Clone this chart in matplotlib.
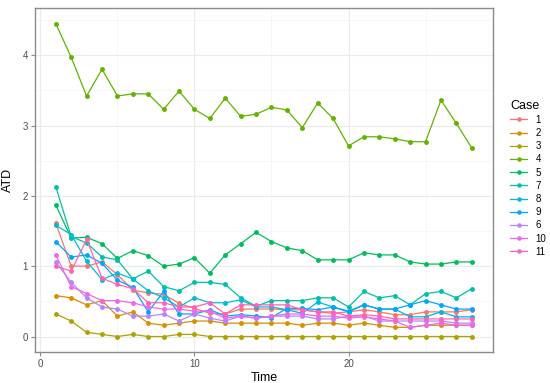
import numpy as np
import matplotlib
matplotlib.use("Agg")
import matplotlib.pyplot as plt
from matplotlib.ticker import MultipleLocator

plt.rcParams['font.family'] = ['Liberation Sans', 'DejaVu Sans']

time = np.arange(1, 29)

# legend order as in the reference
cases = ['1', '2', '3', '4', '5', '7', '8', '9', '6', '10', '11']
colors = ['#F8766D', '#DB8E00', '#AEA200', '#64B200', '#00BD5C', '#00C1A7',
          '#00BADE', '#00A6FF', '#B385FF', '#EF67EB', '#FF63B6']

case1 = [1.61, 1.00, 1.00, 1.06, 0.88, 0.66, 0.62, 0.60, 0.47, 0.40, 0.33, 0.32, 0.39, 0.39,
         0.39, 0.38, 0.38, 0.35, 0.33, 0.35, 0.38, 0.35, 0.31, 0.31, 0.35, 0.35, 0.35, 0.38]
case2 = [0.58, 0.55, 0.45, 0.51, 0.29, 0.35, 0.19, 0.16, 0.19, 0.22, 0.22, 0.19, 0.19, 0.19,
         0.19, 0.19, 0.16, 0.19, 0.19, 0.16, 0.19, 0.16, 0.13, 0.13, 0.16, 0.16, 0.16, 0.16]
case3 = [0.32, 0.22, 0.06, 0.03, 0.00, 0.03, 0.00, 0.00, 0.03, 0.03, 0.00, 0.00, 0.00, 0.00,
         0.00, 0.00, 0.00, 0.00, 0.00, 0.00, 0.00, 0.00, 0.00, 0.00, 0.00, 0.00, 0.00, 0.00]
case4 = [4.45, 3.97, 3.42, 3.80, 3.42, 3.45, 3.45, 3.23, 3.49, 3.23, 3.10, 3.39, 3.13, 3.16,
         3.26, 3.22, 2.97, 3.32, 3.10, 2.71, 2.84, 2.84, 2.81, 2.77, 2.77, 3.36, 3.03, 2.68]
case5 = [1.87, 1.40, 1.41, 1.32, 1.11, 1.22, 1.15, 1.00, 1.03, 1.12, 0.90, 1.16, 1.32, 1.48,
         1.35, 1.26, 1.22, 1.09, 1.09, 1.09, 1.19, 1.16, 1.16, 1.06, 1.03, 1.03, 1.06, 1.06]
case7 = [2.13, 1.42, 1.33, 1.13, 1.09, 0.82, 0.93, 0.71, 0.65, 0.77, 0.77, 0.74, 0.55, 0.43,
         0.51, 0.51, 0.51, 0.55, 0.55, 0.42, 0.64, 0.55, 0.58, 0.45, 0.61, 0.64, 0.55, 0.68]
case8 = [1.58, 1.45, 1.07, 0.81, 0.90, 0.82, 0.65, 0.55, 0.42, 0.55, 0.48, 0.48, 0.52, 0.42,
         0.42, 0.38, 0.33, 0.49, 0.42, 0.36, 0.45, 0.39, 0.39, 0.28, 0.28, 0.35, 0.28, 0.28]
case9 = [1.35, 1.13, 1.16, 1.04, 0.80, 0.70, 0.35, 0.64, 0.32, 0.32, 0.38, 0.29, 0.31, 0.29,
         0.27, 0.40, 0.40, 0.38, 0.42, 0.35, 0.45, 0.39, 0.39, 0.45, 0.51, 0.45, 0.39, 0.39]
case6 = [1.06, 0.77, 0.55, 0.42, 0.39, 0.29, 0.29, 0.32, 0.22, 0.32, 0.26, 0.22, 0.29, 0.26,
         0.29, 0.29, 0.29, 0.25, 0.25, 0.29, 0.29, 0.22, 0.22, 0.22, 0.22, 0.22, 0.19, 0.19]
case10 = [1.16, 0.71, 0.61, 0.51, 0.51, 0.48, 0.42, 0.39, 0.39, 0.36, 0.36, 0.26, 0.29, 0.26,
          0.29, 0.32, 0.32, 0.29, 0.29, 0.26, 0.28, 0.25, 0.22, 0.13, 0.16, 0.19, 0.16, 0.16]
case11 = [1.00, 0.93, 1.38, 0.83, 0.74, 0.68, 0.48, 0.48, 0.42, 0.42, 0.48, 0.32, 0.45, 0.45,
          0.45, 0.45, 0.38, 0.35, 0.35, 0.29, 0.31, 0.29, 0.25, 0.25, 0.25, 0.25, 0.25, 0.25]

series = [case1, case2, case3, case4, case5, case7, case8, case9, case6, case10, case11]

fig = plt.figure(figsize=(5.5, 3.83), dpi=100)
ax = fig.add_axes([0.0636, 0.081, 0.832, 0.898])

for name, vals, col in zip(cases, series, colors):
    ax.plot(time, vals, '-o', color=col, lw=0.9, ms=2.5, label=name)

ax.set_xlim(-0.35, 29.35)
ax.set_ylim(-0.22, 4.67)
ax.xaxis.set_major_locator(MultipleLocator(10))
ax.xaxis.set_minor_locator(MultipleLocator(5))
ax.yaxis.set_major_locator(MultipleLocator(1))
ax.yaxis.set_minor_locator(MultipleLocator(0.5))
ax.grid(which='major', color='#EBEBEB', lw=0.8)
ax.grid(which='minor', color='#F4F4F4', lw=0.5)
ax.set_axisbelow(True)
for s in ax.spines.values():
    s.set_color('#8a8a8a')
    s.set_linewidth(1.0)
ax.tick_params(which='major', length=3, color='#8a8a8a', labelsize=7, labelcolor='#4d4d4d', pad=2)
ax.tick_params(which='minor', length=0)

ax.set_xlabel('Time', fontsize=9, labelpad=2)
ax.set_ylabel('ATD', fontsize=9, labelpad=6)

leg = fig.legend(loc='upper left', bbox_to_anchor=(0.928, 0.74), frameon=False,
                 title='Case', fontsize=7, title_fontsize=9, handlelength=1.7,
                 handletextpad=0.9, labelspacing=0.33, borderpad=0, borderaxespad=0,
                 markerscale=0.9, alignment='left')

fig.savefig('out.png', dpi=100)
